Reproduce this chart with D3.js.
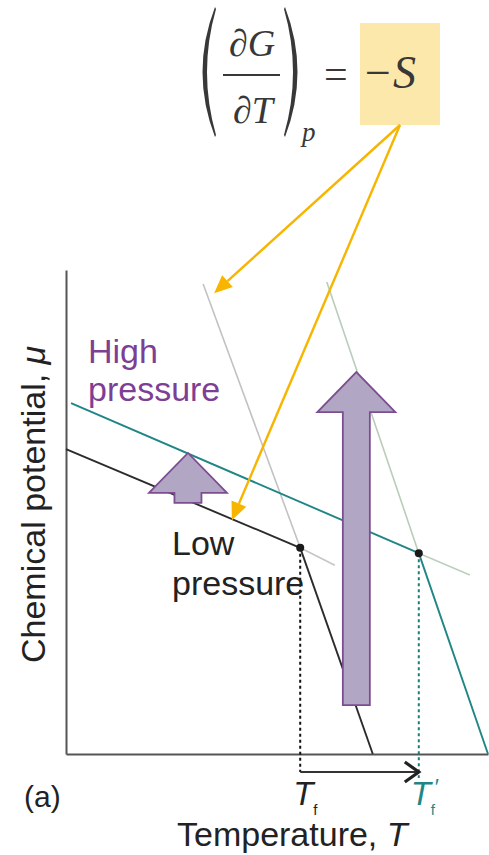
<!DOCTYPE html>
<html>
<head>
<meta charset="utf-8">
<script src="https://cdn.jsdelivr.net/npm/d3@7"></script>
<style>
  html, body { margin: 0; padding: 0; background: #ffffff; }
  svg { display: block; }
</style>
</head>
<body>
<svg id="chart" width="489" height="855"></svg>
<script>
// ---- data (temperature / chemical potential, arbitrary units 0..100) ----
const lowSolid      = [[0, 63.0], [55.5, 42.6]];
const lowLiquid     = [[55.5, 42.6], [72.7, 0]];
const lowSolidExt   = [[55.5, 42.6], [63.7, 39.0]];
const lowLiquidExt  = [[32.5, 97.1], [55.5, 42.6]];
const highSolid     = [[1.2, 72.5], [83.6, 41.5]];
const highLiquid    = [[83.6, 41.5], [100, 0]];
const highSolidExt  = [[83.6, 41.5], [95.7, 37.0]];
const highLiquidExt = [[61.8, 97.5], [83.6, 41.5]];
const meltPoints    = [[55.5, 42.6], [83.6, 41.5]];
const upArrows      = [{x: 68.8, base: 10.1, tip: 78.9}, {x: 28.9, base: 51.9, tip: 62.2}];
const slopeTargets  = [[35.1, 95.2], [39.3, 48.3]];
const tickLabels    = ["T", "T"];
const phaseLabels   = [["High", "pressure"], ["Low", "pressure"]];
const axisTitles    = ["Chemical potential, ", "\u03bc", "Temperature, ", "T"];

// ---- scales ----
const x = d3.scaleLinear().domain([0, 100]).range([66, 488]);
const y = d3.scaleLinear().domain([0, 100]).range([754, 270]);

const svg = d3.select("#chart");
const line = d3.line().x(d => x(d[0])).y(d => y(d[1]));

// ---- equation at top ----
const eq = svg.append("g").attr("fill", "#383838")
  .style("font-family", "'Liberation Serif', 'DejaVu Serif', serif");
eq.append("rect").attr("x", 360).attr("y", 23).attr("width", 80).attr("height", 102)
  .attr("fill", "#fde8ab");
// parentheses
eq.append("path").attr("d", "M215,7 Q190,72 215,137 L216,135 Q198,72 216,9 Z");
eq.append("path").attr("d", "M285,7 Q310,72 285,137 L284,135 Q302,72 284,9 Z");
eq.append("text").attr("x", 252).attr("y", 56).attr("text-anchor", "middle")
  .style("font-size", "38px").style("font-style", "italic").text("\u2202G");
eq.append("line").attr("x1", 223).attr("x2", 280).attr("y1", 75).attr("y2", 75)
  .attr("stroke", "#383838").attr("stroke-width", 2);
eq.append("text").attr("x", 253).attr("y", 123).attr("text-anchor", "middle")
  .style("font-size", "38px").style("font-style", "italic").text("\u2202T");
eq.append("text").attr("x", 302).attr("y", 141)
  .style("font-size", "27px").style("font-style", "italic").text("p");
eq.append("text").attr("x", 324).attr("y", 88)
  .style("font-size", "42px").text("=");
eq.append("text").attr("x", 362).attr("y", 88)
  .style("font-size", "46px").style("font-style", "italic").text("\u2212S");

// ---- axes ----
const axisColor = "#555";
svg.append("g").attr("transform", `translate(0,${y(0)})`)
  .call(d3.axisBottom(x).tickValues([]).tickSizeOuter(0))
  .select(".domain").attr("stroke", axisColor).attr("stroke-width", 2);
svg.append("g").attr("transform", `translate(${x(0)},0)`)
  .call(d3.axisLeft(y).tickValues([]).tickSizeOuter(0))
  .select(".domain").attr("stroke", axisColor).attr("stroke-width", 2);

// ---- extension (metastable) lines ----
svg.append("path").datum(lowLiquidExt).attr("d", line)
  .attr("fill", "none").attr("stroke", "#c2c2c2").attr("stroke-width", 1.6);
svg.append("path").datum(lowSolidExt).attr("d", line)
  .attr("fill", "none").attr("stroke", "#c6c6c6").attr("stroke-width", 1.6);
svg.append("path").datum(highLiquidExt).attr("d", line)
  .attr("fill", "none").attr("stroke", "#b9cdb9").attr("stroke-width", 1.6);
svg.append("path").datum(highSolidExt).attr("d", line)
  .attr("fill", "none").attr("stroke", "#bdd0bd").attr("stroke-width", 1.6);

// ---- dotted drop lines ----
svg.append("line").attr("x1", x(meltPoints[0][0])).attr("x2", x(meltPoints[0][0]))
  .attr("y1", y(meltPoints[0][1])).attr("y2", 772)
  .attr("stroke", "#111").attr("stroke-width", 2).attr("stroke-dasharray", "3,3");
svg.append("line").attr("x1", x(meltPoints[1][0])).attr("x2", x(meltPoints[1][0]))
  .attr("y1", y(meltPoints[1][1])).attr("y2", 778)
  .attr("stroke", "#1a7f7f").attr("stroke-width", 2).attr("stroke-dasharray", "3,3");

// ---- phase lines ----
[lowSolid, lowLiquid].forEach(d => svg.append("path").datum(d).attr("d", line)
  .attr("fill", "none").attr("stroke", "#2b2b2b").attr("stroke-width", 1.9));
[highSolid, highLiquid].forEach(d => svg.append("path").datum(d).attr("d", line)
  .attr("fill", "none").attr("stroke", "#1f8585").attr("stroke-width", 1.9));

svg.selectAll("circle.melt").data(meltPoints).enter().append("circle")
  .attr("class", "melt").attr("cx", d => x(d[0])).attr("cy", d => y(d[1]))
  .attr("r", 4).attr("fill", "#1a1a1a");

// ---- Tf -> Tf' arrow ----
const ax1 = x(meltPoints[0][0]), ax2 = x(meltPoints[1][0]);
svg.append("line").attr("x1", ax1).attr("x2", ax2 - 2).attr("y1", 772).attr("y2", 772)
  .attr("stroke", "#333").attr("stroke-width", 1.8);
svg.append("path").attr("d", `M${ax2 - 14},762 L${ax2},772 L${ax2 - 14},782`)
  .attr("fill", "none").attr("stroke", "#222").attr("stroke-width", 3.2)
  .attr("stroke-linejoin", "miter");

// ---- purple up-arrows ----
const sh = 13.5, hh = 39, hl = 40;
svg.selectAll("path.up").data(upArrows).enter().append("path").attr("class", "up")
  .attr("d", d => {
    const cx = x(d.x), b = y(d.base), t = y(d.tip);
    return `M${cx - sh},${b} L${cx - sh},${t + hl} L${cx - hh},${t + hl} L${cx},${t} ` +
           `L${cx + hh},${t + hl} L${cx + sh},${t + hl} L${cx + sh},${b} Z`;
  })
  .attr("fill", "#b1a7c4").attr("stroke", "#7d4d92").attr("stroke-width", 1.8)
  .attr("stroke-linejoin", "miter");

// ---- yellow annotation arrows ----
const ySrc = [400, 125];
slopeTargets.forEach(t => {
  const tx = x(t[0]), ty = y(t[1]);
  const ang = Math.atan2(ty - ySrc[1], tx - ySrc[0]);
  const L = 18, W = 8;
  const bx = tx - L * Math.cos(ang), by = ty - L * Math.sin(ang);
  svg.append("line").attr("x1", ySrc[0]).attr("y1", ySrc[1]).attr("x2", bx).attr("y2", by)
    .attr("stroke", "#f7b500").attr("stroke-width", 2.4);
  svg.append("path")
    .attr("d", `M${tx},${ty} L${bx + W * Math.sin(ang)},${by - W * Math.cos(ang)} ` +
               `L${bx - W * Math.sin(ang)},${by + W * Math.cos(ang)} Z`)
    .attr("fill", "#f7b500");
});

// ---- text labels ----
const sans = "'Liberation Sans', Arial, Helvetica, sans-serif";
const hp = svg.append("text").attr("x", 88).attr("y", 363)
  .style("font-family", sans).style("font-size", "34px").attr("fill", "#7d3f94");
hp.append("tspan").attr("x", 88).text(phaseLabels[0][0]);
hp.append("tspan").attr("x", 88).attr("dy", 38).text(phaseLabels[0][1]);

const lp = svg.append("text").attr("x", 172).attr("y", 555)
  .style("font-family", sans).style("font-size", "34px").attr("fill", "#222");
lp.append("tspan").attr("x", 172).text(phaseLabels[1][0]);
lp.append("tspan").attr("x", 172).attr("dy", 40).text(phaseLabels[1][1]);

const yt = svg.append("text").attr("transform", "translate(45,663) rotate(-90)")
  .style("font-family", sans).style("font-size", "34px").attr("fill", "#222");
yt.append("tspan").text(axisTitles[0]);
yt.append("tspan").style("font-style", "italic").text(axisTitles[1]);

const xt = svg.append("text").attr("x", 177).attr("y", 846)
  .style("font-family", sans).style("font-size", "34px").attr("fill", "#222");
xt.append("tspan").text(axisTitles[2]);
xt.append("tspan").style("font-style", "italic").text(axisTitles[3]);

svg.append("text").attr("x", 24).attr("y", 807)
  .style("font-family", sans).style("font-size", "30px").attr("fill", "#222").text("(a)");

// Tf labels
svg.append("text").attr("x", ax1 - 7).attr("y", 805)
  .style("font-family", sans).style("font-size", "33px").style("font-style", "italic")
  .attr("fill", "#222").text(tickLabels[0]);
svg.append("text").attr("x", ax1 + 13).attr("y", 815)
  .style("font-family", sans).style("font-size", "15px").attr("fill", "#222").text("f");

svg.append("text").attr("x", ax2 - 8).attr("y", 805)
  .style("font-family", sans).style("font-size", "33px").style("font-style", "italic")
  .attr("fill", "#1f8585").text(tickLabels[1]);
svg.append("text").attr("x", ax2 + 12).attr("y", 815)
  .style("font-family", sans).style("font-size", "15px").attr("fill", "#1f8585").text("f");
svg.append("text").attr("x", ax2 + 15).attr("y", 794)
  .style("font-family", sans).style("font-size", "22px").style("font-style", "italic")
  .attr("fill", "#1f8585").text("\u2032");
</script>
</body>
</html>
